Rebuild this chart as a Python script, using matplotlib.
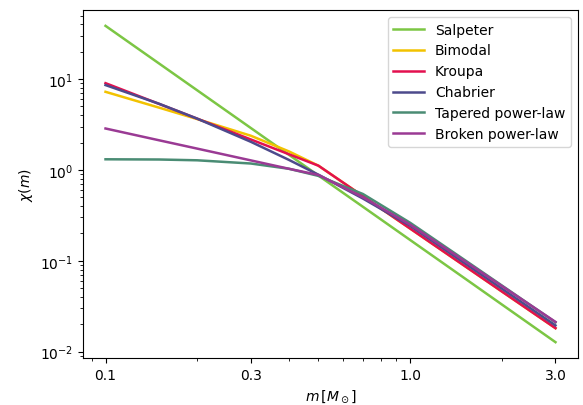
import matplotlib
matplotlib.use("Agg")
import matplotlib.pyplot as plt
from matplotlib.ticker import NullFormatter

# stellar mass grid [M_sun]
mass = [0.1, 0.15, 0.2, 0.3, 0.4, 0.5, 0.7, 1.0, 1.5, 2.0, 3.0]

salpeter = [38.6, 14.84, 7.53, 2.894, 1.468, 0.867, 0.3927, 0.1693, 0.0651, 0.0330, 0.01269]
bimodal  = [7.25, 4.85, 3.63, 2.38, 1.60, 1.114, 0.514, 0.2262, 0.0890, 0.0459, 0.0181]
kroupa   = [9.03, 5.33, 3.67, 2.165, 1.489, 1.114, 0.514, 0.2262, 0.0890, 0.0459, 0.0181]
chabrier = [8.6, 5.35, 3.67, 2.04, 1.29, 0.886, 0.484, 0.2427, 0.0955, 0.0493, 0.0194]
tapered  = [1.31, 1.303, 1.277, 1.177, 1.030, 0.86, 0.543, 0.262, 0.1035, 0.0534, 0.0210]
broken   = [2.86, 2.12, 1.717, 1.274, 1.030, 0.88, 0.50, 0.25, 0.1006, 0.0527, 0.0212]

labels = ["Salpeter", "Bimodal", "Kroupa", "Chabrier", "Tapered power-law", "Broken power-law"]
colors = ["#7cc644", "#f2c200", "#e3104f", "#4d4a8c", "#4a8c74", "#9a3a94"]
series = [salpeter, bimodal, kroupa, chabrier, tapered, broken]

xticks = [0.1, 0.3, 1.0, 3.0]
xticklabels = ["0.1", "0.3", "1.0", "3.0"]

fig = plt.figure(figsize=(5.83, 4.06), dpi=100)
ax = fig.add_axes([0.1424, 0.1158, 0.849, 0.857])

for ys, lab, col in zip(series, labels, colors):
    ax.plot(mass, ys, color=col, lw=1.8, label=lab)

ax.set_xscale("log")
ax.set_yscale("log")
ax.set_xticks(xticks)
ax.set_xticklabels(xticklabels)
ax.xaxis.set_minor_formatter(NullFormatter())

ax.set_xlabel(r"$m\,[M_\odot]$")
ax.set_ylabel(r"$\chi(m)$")
ax.legend(loc="upper right", handlelength=2.2)

fig.savefig("out.png", dpi=100)
